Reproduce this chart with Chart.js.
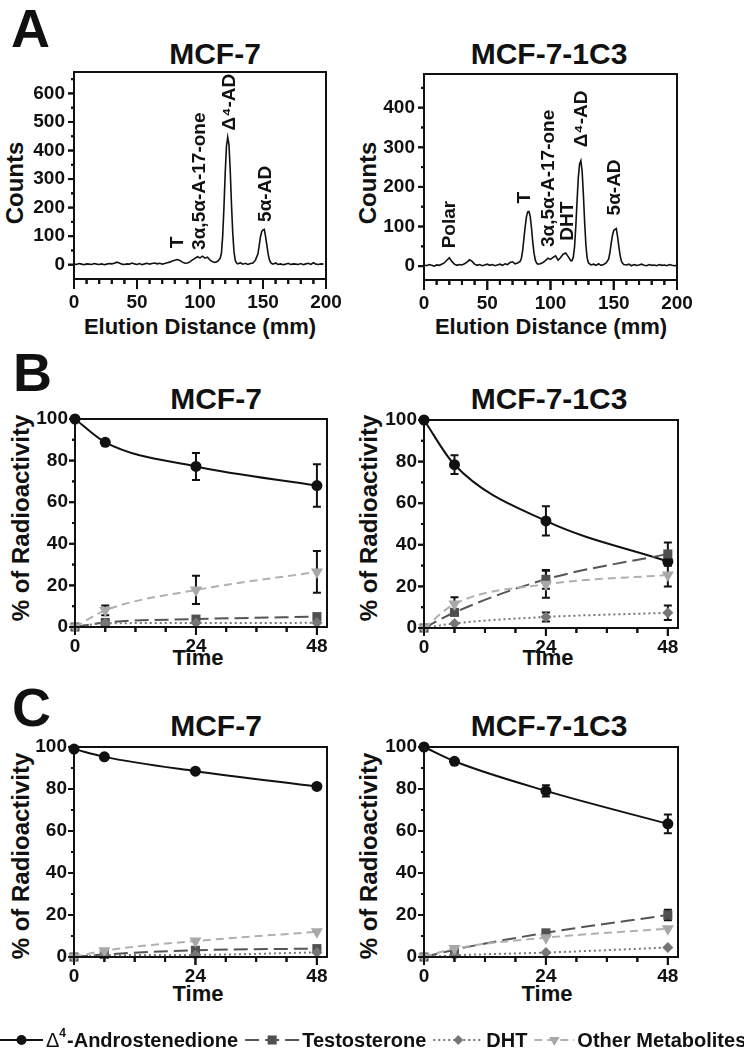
<!DOCTYPE html>
<html lang="en">
<head>
  <meta charset="UTF-8">
  <title>Androstenedione metabolism in MCF-7 and MCF-7-1C3</title>
  <script src="https://cdn.jsdelivr.net/npm/chart.js"></script>
  <style>
    body { margin: 0; background: #fff; }
    #page { position: relative; width: 744px; height: 1050px; overflow: hidden;
            font-family: "Liberation Sans", Arial, sans-serif; font-weight: bold; color: #111; }
    .txt { position: absolute; white-space: nowrap; line-height: 1; }
    .panel { font-size: 54px; }
    .title { font-size: 30px; transform: translate(-50%, -50%); }
    .xt { font-size: 22px; transform: translate(-50%, -50%); }
    .yt { font-size: 24px; transform: translate(-50%, -50%) rotate(-90deg); }
  </style>
</head>
<body>
<div id="page">
  <div class="txt panel" style="left:11px;top:1px">A</div>
  <div class="txt panel" style="left:13px;top:345px">B</div>
  <div class="txt panel" style="left:12px;top:680px">C</div>

  <div class="txt title" style="left:215px;top:54px">MCF-7</div>
  <div class="txt title" style="left:549px;top:54px">MCF-7-1C3</div>
  <div class="txt title" style="left:216px;top:399px">MCF-7</div>
  <div class="txt title" style="left:549px;top:399px">MCF-7-1C3</div>
  <div class="txt title" style="left:216px;top:726px">MCF-7</div>
  <div class="txt title" style="left:549px;top:726px">MCF-7-1C3</div>

  <div class="txt xt" style="left:200px;top:327px">Elution Distance (mm)</div>
  <div class="txt xt" style="left:551px;top:327px">Elution Distance (mm)</div>
  <div class="txt xt" style="left:198px;top:658px">Time</div>
  <div class="txt xt" style="left:548px;top:658px">Time</div>
  <div class="txt xt" style="left:198px;top:994px">Time</div>
  <div class="txt xt" style="left:547px;top:994px">Time</div>

  <div class="txt yt" style="left:15px;top:183px">Counts</div>
  <div class="txt yt" style="left:368px;top:183px">Counts</div>
  <div class="txt yt" style="left:21px;top:518px">% of Radioactivity</div>
  <div class="txt yt" style="left:369px;top:518px">% of Radioactivity</div>
  <div class="txt yt" style="left:21px;top:856px">% of Radioactivity</div>
  <div class="txt yt" style="left:369px;top:856px">% of Radioactivity</div>

  <canvas id="legend" width="744" height="40" style="position:absolute;left:0;top:1020px"></canvas>
</div>

<script>
  // ---- Panel A: radio-chromatograms (elution distance in mm, counts)
  const distA1 = [0,2,4,6,8,10,12,14,16,18,20,22,24,26,28,30,32,34,36,38,40,42,44,46,48,50,52,54,56,58,60,62,64,66,68,70,72,74,76,78,80,82,84,86,88,90,92,94,96,98,100,102,104,106,108,110,112,114,116,117,118,119,120,121,122,123,124,125,126,127,128,129,130,132,134,136,138,140,142,144,146,147,148,149,150,151,152,153,154,155,156,157,158,160,162,164,166,168,170,172,174,176,178,180,182,184,186,188,190,192,194,196,198,200];
  const countsA1 = [3,1,4,2,0,3,2,1,4,2,1,3,0,2,4,3,5,9,6,2,1,3,2,6,3,1,4,0,3,5,2,4,6,3,5,2,4,7,9,13,16,18,15,9,5,6,10,17,22,28,24,30,23,26,16,10,8,12,22,40,100,200,320,415,447,420,330,210,110,45,15,6,3,7,2,5,1,4,6,16,38,68,98,116,122,124,100,70,40,18,8,4,2,6,1,3,0,2,5,1,3,2,1,4,0,3,5,1,7,2,1,3,2];

  const distA2 = [0,2,4,6,8,10,12,14,16,18,20,22,24,26,28,30,32,34,36,38,40,42,44,46,48,50,52,54,56,58,60,62,64,66,68,70,72,74,76,77,78,79,80,81,82,83,84,85,86,87,88,89,90,92,94,96,98,100,102,104,106,108,110,112,114,116,117,118,119,120,121,122,123,124,125,126,127,128,129,130,132,134,136,138,140,142,144,146,147,148,149,150,151,152,153,154,155,156,157,158,160,162,164,166,168,170,172,174,176,178,180,182,184,186,188,190,192,194,196,198,200];
  const countsA2 = [3,1,4,2,0,3,2,5,8,15,21,12,5,2,4,3,6,10,16,12,5,2,4,1,3,5,2,4,1,3,5,2,6,4,9,11,6,8,12,20,40,70,100,125,137,138,125,95,60,32,15,8,5,6,9,14,20,17,22,26,15,22,30,33,24,14,14,22,48,100,165,225,258,266,240,180,110,52,20,8,3,5,2,6,2,4,8,18,35,58,78,90,93,95,75,50,28,13,7,4,3,5,1,4,2,3,5,2,1,4,2,3,1,4,2,3,1,4,2,1,2];

  const mmTicks = [0,10,20,30,40,50,60,70,80,90,100,110,120,130,140,150,160,170,180,190,200];
  const mmLabels = [0,50,100,150,200];
  const countTicksA1 = [0,50,100,150,200,250,300,350,400,450,500,550,600,650];
  const countTicksA2 = [0,50,100,150,200,250,300,350,400,450];
  const countLabels = [0,100,200,300,400,500,600];

  const peakNamesA1 = ['T', '3α,5α-A-17-one', 'Δ⁴-AD', '5α-AD'];
  const peakMmA1 = [82, 100, 124, 152];
  const peakCountA1 = [58, 52, 470, 150];
  const peakNamesA2 = ['Polar', 'T', '3α,5α-A-17-one', 'DHT', 'Δ⁴-AD', '5α-AD'];
  const peakMmA2 = [20, 80, 98.6, 113.5, 125, 151];
  const peakCountA2 = [45, 158, 48, 64, 300, 128];

  // ---- Panels B and C: % of radioactivity vs time (h)
  const times = [0, 6, 24, 48];
  const timeTicks = [0, 6, 12, 18, 24, 30, 36, 42, 48];
  const timeLabels = [0, 24, 48];
  const pctTicks = [0,10,20,30,40,50,60,70,80,90,100];
  const pctLabels = [0,20,40,60,80,100];

  // B, MCF-7
  const bAdMcf7 = [100, 88.8, 77.2, 68];
  const bAdMcf7Err = [0, 0, 6.5, 10.2];
  const bTMcf7 = [0, 2.2, 3.8, 5];
  const bDhtMcf7 = [0, 1.8, 1.9, 2];
  const bOtherMcf7 = [0, 8, 17.8, 26.5];
  const bOtherMcf7Err = [0, 2.3, 6.8, 10];
  // B, MCF-7-1C3
  const bAd1c3 = [100, 78.5, 51.5, 32];
  const bAd1c3Err = [0, 4.5, 7, 2];
  const bT1c3 = [0, 7.5, 23.4, 35.6];
  const bT1c3Err = [0, 0, 4.5, 5.5];
  const bDht1c3 = [0, 2.2, 5.3, 7.3];
  const bDht1c3Err = [0, 0, 2.2, 3.5];
  const bOther1c3 = [0, 11.5, 21, 25.5];
  const bOther1c3Err = [0, 3.3, 6.5, 5.5];
  // C, MCF-7
  const cAdMcf7 = [99, 95.3, 88.5, 81.2];
  const cTMcf7 = [0, 1.2, 3.2, 4];
  const cDhtMcf7 = [0, 0.8, 1, 2.2];
  const cOtherMcf7 = [0, 3, 7.6, 12];
  // C, MCF-7-1C3
  const cAd1c3 = [100, 93.2, 79.1, 63.4];
  const cAd1c3Err = [0, 0, 2.7, 4.5];
  const cT1c3 = [0, 3.5, 11.5, 20];
  const cT1c3Err = [0, 0, 0, 2.5];
  const cDht1c3 = [0, 0.8, 2.1, 4.5];
  const cOther1c3 = [0, 4, 9.2, 13.5];

  const legendLabels = ['Δ4-Androstenedione', 'Testosterone', 'DHT', 'Other Metabolites'];

  // ---- styles
  const FONT = '"Liberation Sans", Arial, sans-serif';
  const INK = '#111';
  const ST = {
    ad:    { line: '#111', dash: [],     width: 2, point: 'circle',   radius: 5.5, fill: '#111' },
    t:     { line: '#555', dash: [14, 6], width: 2, point: 'rect',     radius: 6.4, fill: '#505050' },
    dht:   { line: '#777', dash: [2, 3],  width: 2, point: 'rectRot',  radius: 5.5, fill: '#767676' },
    other: { line: '#b0b0b0', dash: [8, 5], width: 2, point: 'triangle', radius: 7, fill: '#a8a8a8', rotation: 180 }
  };

  // box round the plot and long/short tick marks, taken from a chart's scales
  function drawFrame(ctx, chart, marks, ox, oy) {
    const sx = chart.scales.x, sy = chart.scales.y;
    const left = ox + sx.getPixelForValue(sx.min), right = ox + sx.getPixelForValue(sx.max);
    const top = oy + sy.getPixelForValue(sy.max), bottom = oy + sy.getPixelForValue(sy.min);
    ctx.save();
    ctx.setLineDash([]);
    ctx.strokeStyle = INK;
    ctx.lineWidth = 2;
    ctx.strokeRect(left, top, right - left, bottom - top);
    sx.ticks.forEach(tk => {
      const x = ox + sx.getPixelForValue(tk.value);
      const len = marks.labeledX.indexOf(tk.value) >= 0 ? marks.majorX : marks.minorX;
      ctx.beginPath(); ctx.moveTo(x, bottom); ctx.lineTo(x, bottom + len); ctx.stroke();
    });
    sy.ticks.forEach(tk => {
      const y = oy + sy.getPixelForValue(tk.value);
      const len = marks.labeledY.indexOf(tk.value) >= 0 ? marks.majorY : marks.minorY;
      ctx.beginPath(); ctx.moveTo(left, y); ctx.lineTo(left - len, y); ctx.stroke();
    });
    ctx.restore();
  }

  function drawErrorBars(chart) {
    const ctx = chart.ctx, sy = chart.scales.y;
    ctx.save();
    ctx.setLineDash([]);
    ctx.strokeStyle = INK;
    ctx.lineWidth = 2;
    chart.data.datasets.forEach((ds, i) => {
      if (!ds.errors) return;
      const meta = chart.getDatasetMeta(i);
      ds.data.forEach((p, j) => {
        const e = ds.errors[j];
        if (!e) return;
        const x = meta.data[j].x;
        const y1 = sy.getPixelForValue(p.y + e), y2 = sy.getPixelForValue(p.y - e);
        ctx.beginPath();
        ctx.moveTo(x, y1); ctx.lineTo(x, y2);
        ctx.moveTo(x - 4, y1); ctx.lineTo(x + 4, y1);
        ctx.moveTo(x - 4, y2); ctx.lineTo(x + 4, y2);
        ctx.stroke();
      });
    });
    ctx.restore();
  }

  function drawPeakNames(chart, marks) {
    if (!marks.names) return;
    const ctx = chart.ctx;
    ctx.save();
    ctx.fillStyle = INK;
    ctx.font = 'bold 19px ' + FONT;
    ctx.textAlign = 'left';
    ctx.textBaseline = 'middle';
    marks.names.forEach((name, i) => {
      ctx.save();
      ctx.translate(chart.scales.x.getPixelForValue(marks.mm[i]), chart.scales.y.getPixelForValue(marks.counts[i]));
      ctx.rotate(-Math.PI / 2);
      ctx.fillText(name, 0, 0);
      ctx.restore();
    });
    ctx.restore();
  }

  function axis(min, max, tickVals, labelVals, majorLen, pad, fitKey, fitSize) {
    return {
      type: 'linear', min: min, max: max,
      afterBuildTicks: s => { s.ticks = tickVals.map(v => ({ value: v })); },
      afterFit: s => { s[fitKey] = fitSize; },
      ticks: {
        autoSkip: false, maxRotation: 0, padding: pad, color: INK,
        font: { family: FONT, size: 19, weight: 'bold' },
        callback: v => labelVals.includes(v) ? String(v) : ''
      },
      grid: { drawOnChartArea: false, drawTicks: true, tickLength: majorLen, color: 'rgba(0,0,0,0)', tickColor: 'rgba(0,0,0,0)' },
      border: { display: true, color: INK, width: 2 }
    };
  }

  const built = [];

  function makeChart(plot, datasets, xAxis, yAxis, marks) {
    const c = document.createElement('canvas');
    const w = plot.r - plot.l + 95, h = plot.b - plot.t + 15 + 36;
    const ox = plot.l - 70, oy = plot.t - 15;
    c.width = w; c.height = h;
    c.style.cssText = 'position:absolute;left:' + ox + 'px;top:' + oy + 'px;width:' + w + 'px;height:' + h + 'px';
    document.getElementById('page').appendChild(c);
    const chart = new Chart(c, {
      type: 'line',
      data: { datasets: datasets },
      options: {
        responsive: false, animation: false,
        layout: { padding: { top: 15, right: 25, left: 0, bottom: 0 } },
        plugins: { legend: { display: false }, tooltip: { enabled: false } },
        scales: { x: xAxis, y: yAxis }
      },
      plugins: [{
        id: 'figure',
        beforeDatasetsDraw: ch => { drawFrame(ch.ctx, ch, marks, 0, 0); drawErrorBars(ch); },
        afterDatasetsDraw: ch => { drawPeakNames(ch, marks); }
      }]
    });
    built.push({ chart: chart, marks: marks, ox: ox, oy: oy });
  }

  function chromatogram(plot, dist, counts, yMin, yMax, yTicks, names, mm, cts) {
    makeChart(plot,
      [{ data: dist.map((d, i) => ({ x: d, y: counts[i] })),
         borderColor: INK, borderWidth: 1.6, pointRadius: 0, tension: 0, fill: false }],
      axis(0, 200, mmTicks, mmLabels, 10, 2, 'height', 36),
      axis(yMin, yMax, yTicks, countLabels, 6, 3, 'width', 70),
      { labeledX: mmLabels, labeledY: countLabels, majorX: 10, minorX: 5, majorY: 6, minorY: 3,
        names: names, mm: mm, counts: cts });
  }

  function series(values, errors, st, order) {
    return {
      data: times.map((t, i) => ({ x: t, y: values[i] })),
      errors: errors,
      borderColor: st.line, borderDash: st.dash, borderWidth: st.width,
      pointStyle: st.point, pointRadius: st.radius, pointRotation: st.rotation || 0,
      pointBackgroundColor: st.fill, pointBorderColor: st.fill, pointBorderWidth: 0,
      cubicInterpolationMode: 'monotone', fill: false, clip: false, order: order
    };
  }

  function timeCourse(plot, ad, adErr, t, tErr, dht, dhtErr, other, otherErr) {
    makeChart(plot,
      [series(ad, adErr, ST.ad, 4), series(t, tErr, ST.t, 3),
       series(dht, dhtErr, ST.dht, 2), series(other, otherErr, ST.other, 1)],
      axis(0, 50, timeTicks, timeLabels, 8, 0, 'height', 36),
      axis(0, 100, pctTicks, pctLabels, 6, 1, 'width', 70),
      { labeledX: timeLabels, labeledY: pctLabels, majorX: 8, minorX: 5, majorY: 6, minorY: 3 });
  }

  chromatogram({ l: 74, t: 72, r: 326, b: 279 }, distA1, countsA1, -50, 675, countTicksA1, peakNamesA1, peakMmA1, peakCountA1);
  chromatogram({ l: 424, t: 74, r: 677, b: 280 }, distA2, countsA2, -35, 485, countTicksA2, peakNamesA2, peakMmA2, peakCountA2);

  timeCourse({ l: 75, t: 419, r: 327, b: 627 }, bAdMcf7, bAdMcf7Err, bTMcf7, null, bDhtMcf7, null, bOtherMcf7, bOtherMcf7Err);
  timeCourse({ l: 424, t: 420, r: 678, b: 628 }, bAd1c3, bAd1c3Err, bT1c3, bT1c3Err, bDht1c3, bDht1c3Err, bOther1c3, bOther1c3Err);
  timeCourse({ l: 74, t: 747, r: 327, b: 957 }, cAdMcf7, null, cTMcf7, null, cDhtMcf7, null, cOtherMcf7, null);
  timeCourse({ l: 424, t: 747, r: 678, b: 957 }, cAd1c3, cAd1c3Err, cT1c3, cT1c3Err, cDht1c3, null, cOther1c3, null);

  // frames again on a page-wide layer above every chart, from the same scales
  const overlay = document.createElement('canvas');
  overlay.width = 744; overlay.height = 1050;
  overlay.style.cssText = 'position:absolute;left:0;top:0;width:744px;height:1050px;pointer-events:none';
  document.getElementById('page').appendChild(overlay);
  const ov = overlay.getContext('2d');
  built.forEach(b => drawFrame(ov, b.chart, b.marks, b.ox, b.oy));

  // ---- shared legend along the bottom
  function drawMarker(ctx, st, x, y, r) {
    ctx.fillStyle = st.fill;
    ctx.beginPath();
    if (st.point === 'circle') {
      ctx.arc(x, y, r, 0, Math.PI * 2);
    } else if (st.point === 'rect') {
      const s = r * Math.SQRT1_2;
      ctx.rect(x - s, y - s, 2 * s, 2 * s);
    } else if (st.point === 'rectRot') {
      ctx.moveTo(x, y - r); ctx.lineTo(x + r, y); ctx.lineTo(x, y + r); ctx.lineTo(x - r, y); ctx.closePath();
    } else {
      ctx.moveTo(x - r * 0.866, y - r * 0.5); ctx.lineTo(x + r * 0.866, y - r * 0.5); ctx.lineTo(x, y + r); ctx.closePath();
    }
    ctx.fill();
  }

  const lg = document.getElementById('legend').getContext('2d');
  const legendStyles = [ST.ad, ST.t, ST.dht, ST.other];
  const symW = [43, 54, 50, 40];
  const markR = [5, 6.4, 5, 6];
  const cy = 20;
  let lx = 0;
  legendLabels.forEach((label, i) => {
    const st = legendStyles[i];
    lg.save();
    lg.strokeStyle = st.line;
    lg.lineWidth = 2;
    lg.setLineDash(st.dash);
    lg.beginPath(); lg.moveTo(lx, cy); lg.lineTo(lx + symW[i], cy); lg.stroke();
    lg.restore();
    drawMarker(lg, st, lx + symW[i] / 2, cy, markR[i]);

    lx += symW[i] + 3;
    lg.fillStyle = INK;
    lg.textBaseline = 'middle';
    if (label.startsWith('Δ4')) {
      lg.font = '20px ' + FONT;
      lg.fillText('Δ', lx, cy + 1);
      lx += lg.measureText('Δ').width;
      lg.font = 'bold 12px ' + FONT;
      lg.fillText('4', lx, cy - 6);
      lx += lg.measureText('4').width + 1;
      label = label.slice(2);
    }
    lg.font = 'bold 20px ' + FONT;
    lg.fillText(label, lx, cy + 1);
    lx += lg.measureText(label).width + 7;
  });
</script>
</body>
</html>
